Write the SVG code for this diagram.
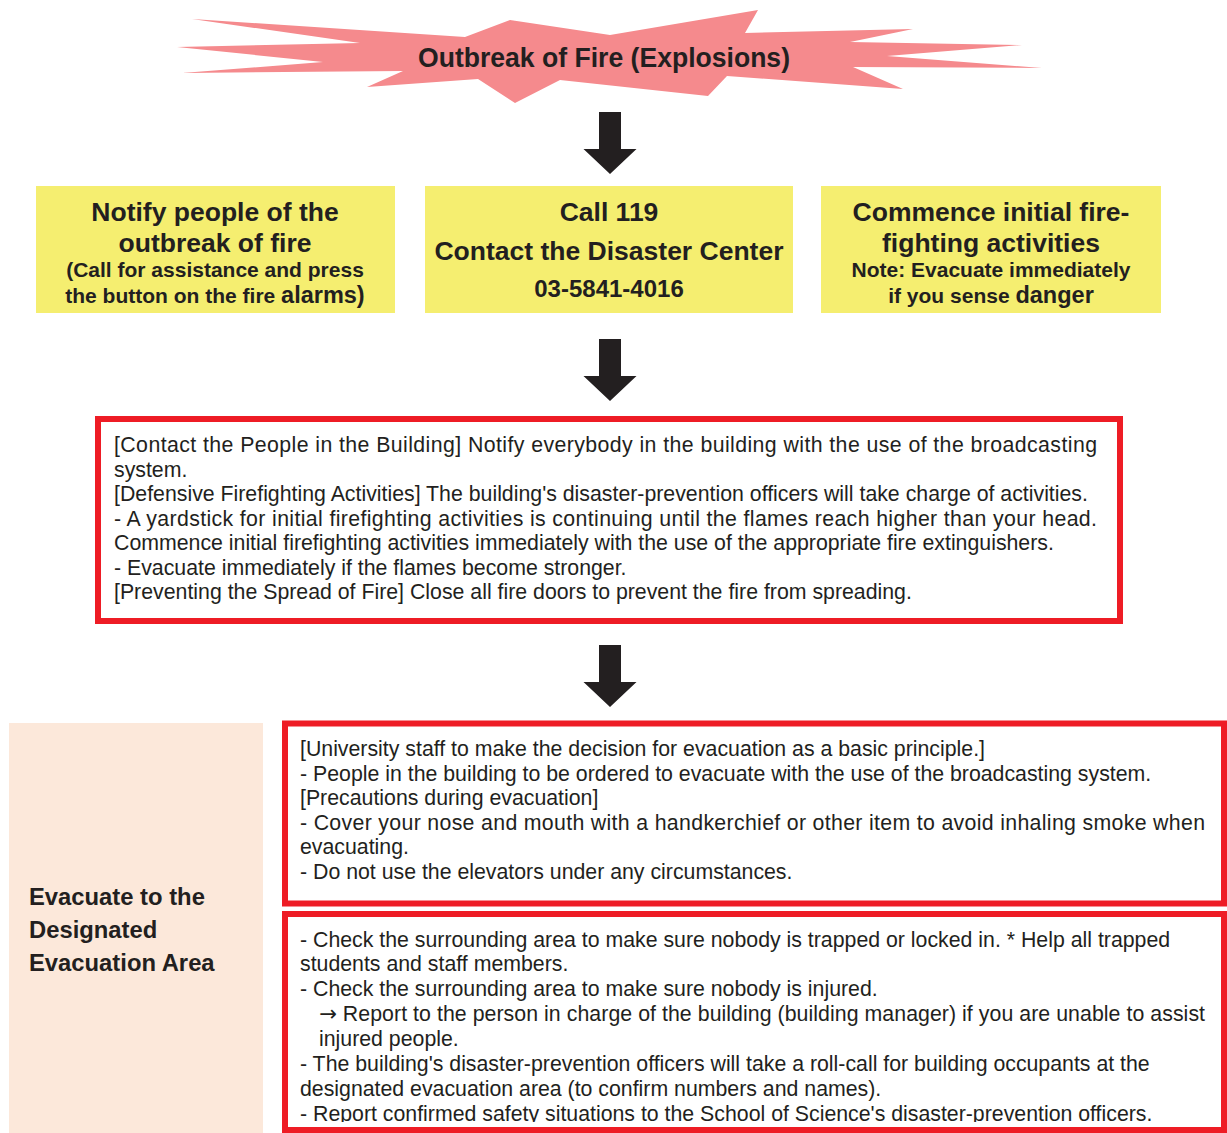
<svg xmlns="http://www.w3.org/2000/svg" width="1227" height="1133" viewBox="0 0 1227 1133">
<style>
text{font-family:"Liberation Sans",Arial,sans-serif;fill:#231f20}
.hd{font-size:26.5px;font-weight:bold;text-anchor:middle}
.sb{font-size:21px;font-weight:bold;text-anchor:middle}
.big{font-size:23.5px}
.bd{font-size:21.3px}
.ar{font-family:"DejaVu Sans",sans-serif}
.pl{font-size:23.8px;font-weight:bold}
.yel{fill:#f5ee70}
.redbox{fill:#fff;stroke:#ee1c25;stroke-width:6}
.arrow{fill:#231f20}
</style>
<defs>
<path id="arr" d="M-11,0 H11 V37 H26.5 L0,62 L-26.5,37 H-11 Z"/>
<clipPath id="clip3"><rect x="288" y="917" width="933" height="205"/></clipPath>
</defs>
<rect width="1227" height="1133" fill="#fff"/>

<g id="node-title">
<polygon fill="#f58a8d" points="192,19 465,37 510,20 610,35 758,10 745,33 913,29 850,42 1022,45 887,56 1042,68 853,67 903,89 727,76 708,96 560,80 515,103 478,79 367,87 403,71 182,73 323,62 177,47 360,43"/>
<text x="604" y="66.5" font-size="27" font-weight="bold" text-anchor="middle" textLength="372" lengthAdjust="spacingAndGlyphs">Outbreak of Fire (Explosions)</text>
</g>

<g id="connectors">
<use href="#arr" class="arrow" x="610" y="112"/>
<use href="#arr" class="arrow" x="610" y="339"/>
<use href="#arr" class="arrow" x="610" y="645"/>
</g>

<g id="node-notify">
<rect class="yel" x="36" y="186" width="359" height="127"/>
<text class="hd" x="215" y="220.5">Notify people of the</text>
<text class="hd" x="215" y="251.5">outbreak of fire</text>
<text class="sb" x="215" y="276.5">(Call for assistance and press</text>
<text class="sb" x="215" y="302.5">the button on the fire <tspan class="big">alarms)</tspan></text>
</g>

<g id="node-call">
<rect class="yel" x="425" y="186" width="368" height="127"/>
<text class="hd" x="609" y="220.5">Call 119</text>
<text class="hd" x="609" y="260">Contact the Disaster Center</text>
<text class="hd" x="609" y="297" style="font-size:24px">03-5841-4016</text>
</g>

<g id="node-commence">
<rect class="yel" x="821" y="186" width="340" height="127"/>
<text class="hd" x="991" y="220.5">Commence initial fire-</text>
<text class="hd" x="991" y="251.5">fighting activities</text>
<text class="sb" x="991" y="276.5">Note: Evacuate immediately</text>
<text class="sb" x="991" y="303">if you sense <tspan class="big">danger</tspan></text>
</g>

<g id="node-actions">
<rect class="redbox" x="98" y="419" width="1022" height="202"/>
<text class="bd" x="114" y="452" textLength="983" lengthAdjust="spacing">[Contact the People in the Building] Notify everybody in the building with the use of the broadcasting</text>
<text class="bd" x="114" y="476.5">system.</text>
<text class="bd" x="114" y="501">[Defensive Firefighting Activities] The building's disaster-prevention officers will take charge of activities.</text>
<text class="bd" x="114" y="525.5" textLength="983" lengthAdjust="spacing">- A yardstick for initial firefighting activities is continuing until the flames reach higher than your head.</text>
<text class="bd" x="114" y="550">Commence initial firefighting activities immediately with the use of the appropriate fire extinguishers.</text>
<text class="bd" x="114" y="574.5">- Evacuate immediately if the flames become stronger.</text>
<text class="bd" x="114" y="599">[Preventing the Spread of Fire] Close all fire doors to prevent the fire from spreading.</text>
</g>

<g id="node-evacuate-label">
<rect x="9" y="723" width="254" height="410" fill="#fce8da"/>
<text class="pl" x="29" y="905">Evacuate to the</text>
<text class="pl" x="29" y="938">Designated</text>
<text class="pl" x="29" y="971">Evacuation Area</text>
</g>

<g id="node-evac-decision">
<rect class="redbox" x="285" y="723.5" width="939" height="180"/>
<text class="bd" x="300" y="756">[University staff to make the decision for evacuation as a basic principle.]</text>
<text class="bd" x="300" y="780.5">- People in the building to be ordered to evacuate with the use of the broadcasting system.</text>
<text class="bd" x="300" y="805">[Precautions during evacuation]</text>
<text class="bd" x="300" y="829.5" textLength="905" lengthAdjust="spacing">- Cover your nose and mouth with a handkerchief or other item to avoid inhaling smoke when</text>
<text class="bd" x="300" y="854">evacuating.</text>
<text class="bd" x="300" y="878.5">- Do not use the elevators under any circumstances.</text>
</g>

<g id="node-evac-check">
<rect class="redbox" x="285" y="914" width="939" height="216"/>
<g clip-path="url(#clip3)">
<text class="bd" x="300" y="946.5">- Check the surrounding area to make sure nobody is trapped or locked in. * Help all trapped</text>
<text class="bd" x="300" y="971.4">students and staff members.</text>
<text class="bd" x="300" y="996.2">- Check the surrounding area to make sure nobody is injured.</text>
<text class="bd" x="319" y="1021" textLength="886" lengthAdjust="spacing"><tspan class="ar">→</tspan> Report to the person in charge of the building (building manager) if you are unable to assist</text>
<text class="bd" x="319" y="1045.9">injured people.</text>
<text class="bd" x="300" y="1070.8">- The building's disaster-prevention officers will take a roll-call for building occupants at the</text>
<text class="bd" x="300" y="1095.6">designated evacuation area (to confirm numbers and names).</text>
<text class="bd" x="300" y="1120.5">- Report confirmed safety situations to the School of Science's disaster-prevention officers.</text>
</g>
</g>
</svg>
